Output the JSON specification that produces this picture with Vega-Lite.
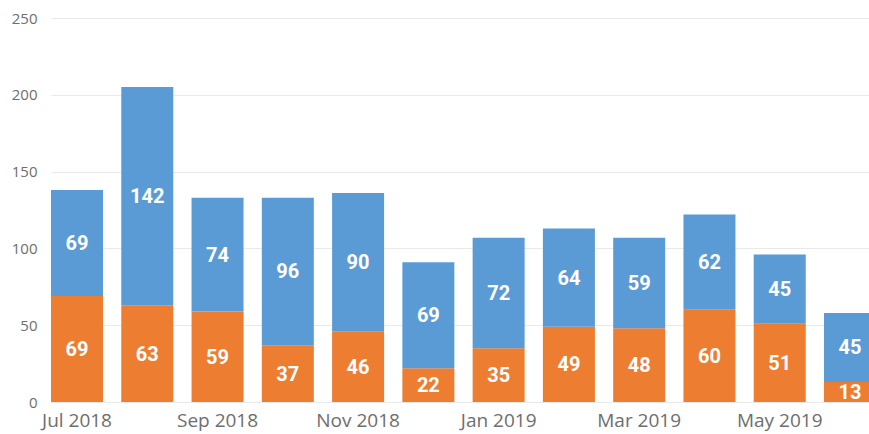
{
  "$schema": "https://vega.github.io/schema/vega-lite/v6.json",
  "autosize": {"type": "none"},
  "width": 818,
  "height": 384,
  "padding": {"left": 51, "top": 18, "right": 0, "bottom": 32},
  "background": "white",
  "config": {"view": {"stroke": null}},
  "data": {
    "values": [
      {"month": "Jul 2018", "series": "A", "ord": 1, "value": 69},
      {"month": "Jul 2018", "series": "B", "ord": 2, "value": 69},
      {"month": "Aug 2018", "series": "A", "ord": 1, "value": 63},
      {"month": "Aug 2018", "series": "B", "ord": 2, "value": 142},
      {"month": "Sep 2018", "series": "A", "ord": 1, "value": 59},
      {"month": "Sep 2018", "series": "B", "ord": 2, "value": 74},
      {"month": "Oct 2018", "series": "A", "ord": 1, "value": 37},
      {"month": "Oct 2018", "series": "B", "ord": 2, "value": 96},
      {"month": "Nov 2018", "series": "A", "ord": 1, "value": 46},
      {"month": "Nov 2018", "series": "B", "ord": 2, "value": 90},
      {"month": "Dec 2018", "series": "A", "ord": 1, "value": 22},
      {"month": "Dec 2018", "series": "B", "ord": 2, "value": 69},
      {"month": "Jan 2019", "series": "A", "ord": 1, "value": 35},
      {"month": "Jan 2019", "series": "B", "ord": 2, "value": 72},
      {"month": "Feb 2019", "series": "A", "ord": 1, "value": 49},
      {"month": "Feb 2019", "series": "B", "ord": 2, "value": 64},
      {"month": "Mar 2019", "series": "A", "ord": 1, "value": 48},
      {"month": "Mar 2019", "series": "B", "ord": 2, "value": 59},
      {"month": "Apr 2019", "series": "A", "ord": 1, "value": 60},
      {"month": "Apr 2019", "series": "B", "ord": 2, "value": 62},
      {"month": "May 2019", "series": "A", "ord": 1, "value": 51},
      {"month": "May 2019", "series": "B", "ord": 2, "value": 45},
      {"month": "Jun 2019", "series": "A", "ord": 1, "value": 13},
      {"month": "Jun 2019", "series": "B", "ord": 2, "value": 45}
    ]
  },
  "transform": [
    {"stack": "value", "groupby": ["month"], "sort": [{"field": "ord", "order": "ascending"}], "as": ["y0", "y1"]},
    {"calculate": "(datum.y0 + datum.y1) / 2", "as": "ymid"}
  ],
  "encoding": {
    "x": {
      "field": "month", "type": "ordinal", "sort": null, "title": null,
      "scale": {"type": "band", "range": [0, 825], "paddingInner": 0.26, "paddingOuter": 0},
      "axis": {
        "values": ["Jul 2018", "Sep 2018", "Nov 2018", "Jan 2019", "Mar 2019", "May 2019"],
        "domain": false, "ticks": false, "labelAngle": 0, "labelPadding": 9,
        "labelFont": "Open Sans", "labelFontSize": 19, "labelColor": "#6e6e6e", "grid": false
      }
    }
  },
  "layer": [
    {
      "mark": {"type": "bar", "clip": true},
      "encoding": {
        "y": {
          "field": "y0", "type": "quantitative", "title": null,
          "scale": {"domain": [0, 250], "nice": false},
          "axis": {
            "values": [0, 50, 100, 150, 200, 250], "domain": false, "ticks": false,
            "labelPadding": 14, "labelFont": "Open Sans", "labelFontSize": 15,
            "labelColor": "#6e6e6e", "gridColor": "#e9e9e9", "gridWidth": 1
          }
        },
        "y2": {"field": "y1"},
        "color": {
          "field": "series", "type": "nominal", "legend": null,
          "scale": {"domain": ["A", "B"], "range": ["#ED7D31", "#5B9BD5"]}
        }
      }
    },
    {
      "mark": {"type": "text", "color": "white", "font": "Roboto", "fontWeight": "bold", "fontSize": 20, "baseline": "middle", "align": "center", "dy": 1},
      "encoding": {
        "y": {"field": "ymid", "type": "quantitative"},
        "text": {"field": "value", "type": "quantitative"}
      }
    }
  ]
}
